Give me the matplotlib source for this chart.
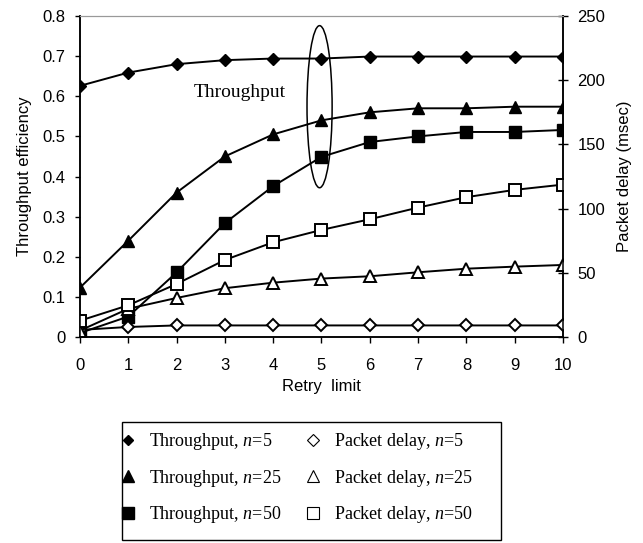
import matplotlib.pyplot as plt
from matplotlib.lines import Line2D
from matplotlib.patches import Ellipse, Rectangle

# Datos
retry = [0, 1, 2, 3, 4, 5, 6, 7, 8, 9, 10]
thr_n5 = [0.626, 0.659, 0.680, 0.690, 0.694, 0.694, 0.699, 0.699, 0.699, 0.699, 0.699]
thr_n25 = [0.123, 0.240, 0.360, 0.450, 0.505, 0.540, 0.560, 0.570, 0.570, 0.574, 0.574]
thr_n50 = [0.010, 0.051, 0.161, 0.284, 0.376, 0.449, 0.486, 0.500, 0.511, 0.511, 0.516]
delay_n5 = [5.5, 7.8, 9.0, 9.0, 9.0, 9.0, 9.0, 9.0, 9.0, 9.0, 9.0]
delay_n25 = [5.0, 22.0, 30.4, 38.0, 42.3, 45.5, 47.3, 50.4, 53.2, 54.8, 56.1]
delay_n50 = [12.7, 24.7, 41.3, 60.0, 73.8, 83.4, 91.7, 100.8, 108.9, 114.6, 118.7]

plt.rcParams['font.family'] = ['Liberation Sans', 'DejaVu Sans']
plt.rcParams['mathtext.fontset'] = 'custom'
plt.rcParams['mathtext.it'] = 'Liberation Serif:italic'
plt.rcParams['mathtext.rm'] = 'Liberation Serif'

fig = plt.figure(figsize=(6.43, 5.43), dpi=100)
ax = fig.add_axes([0.1244, 0.3794, 0.7512, 0.5911])
ax2 = ax.twinx()

lw = 1.4
ax.plot(retry, thr_n5, color='black', lw=lw, marker='D', ms=6.5, mfc='black', zorder=3)
ax.plot(retry, thr_n25, color='black', lw=lw, marker='^', ms=9, mfc='black', zorder=3)
ax.plot(retry, thr_n50, color='black', lw=lw, marker='s', ms=9, mfc='black', zorder=3)
ax2.plot(retry, delay_n5, color='black', lw=lw, marker='D', ms=6.5, mfc='white', mew=1.4)
ax2.plot(retry, delay_n25, color='black', lw=lw, marker='^', ms=9, mfc='white', mew=1.4)
ax2.plot(retry, delay_n50, color='black', lw=lw, marker='s', ms=9, mfc='white', mew=1.4)

ax.set_xlim(0, 10)
ax.set_ylim(0, 0.8)
ax2.set_ylim(0, 250)
ax.set_xticks(retry)
ax.set_yticks([0, 0.1, 0.2, 0.3, 0.4, 0.5, 0.6, 0.7, 0.8])
ax.set_yticklabels(['0', '0.1', '0.2', '0.3', '0.4', '0.5', '0.6', '0.7', '0.8'])
ax2.set_yticks([0, 50, 100, 150, 200, 250])

fs = 12
ax.tick_params(axis='x', direction='out', length=4.3, width=1, labelsize=fs, pad=11)
ax.tick_params(axis='y', direction='out', length=3.6, width=1, labelsize=fs, pad=7)
ax2.tick_params(axis='y', direction='inout', length=7, width=1, labelsize=fs, pad=7)
for a in (ax, ax2):
    a.spines['top'].set_color('#999999')
    a.spines['top'].set_linewidth(0.8)
    for s in ('left', 'right', 'bottom'):
        a.spines[s].set_linewidth(1.1)

ax.set_xlabel('Retry  limit', fontsize=fs, labelpad=4)
ax.set_ylabel('Throughput efficiency', fontsize=fs, labelpad=7.5)
ax2.set_ylabel('Packet delay (msec)', fontsize=fs, labelpad=8)

# Elipse y texto de anotacion
ax.add_patch(Ellipse((4.96, 0.574), 0.52, 0.404, fill=False, ec='black', lw=1.1, zorder=4))
ax.text(3.3, 0.61, 'Throughput', family='Liberation Serif', fontsize=14, ha='center', va='center')

# Leyenda (sin marco propio; el marco se dibuja aparte)
handles = [
    Line2D([], [], ls='none', marker='D', ms=5.5, color='black', mfc='black'),
    Line2D([], [], ls='none', marker='^', ms=8, color='black', mfc='black'),
    Line2D([], [], ls='none', marker='s', ms=8, color='black', mfc='black'),
    Line2D([], [], ls='none', marker='D', ms=6, color='black', mfc='white', mew=0.8),
    Line2D([], [], ls='none', marker='^', ms=8, color='black', mfc='white', mew=0.8),
    Line2D([], [], ls='none', marker='s', ms=8, color='black', mfc='white', mew=0.8),
]
labels = ['Throughput, $n$=5', 'Throughput, $n$=25', 'Throughput, $n$=50',
          'Packet delay, $n$=5', 'Packet delay, $n$=25', 'Packet delay, $n$=50']
leg = fig.legend(handles, labels, ncol=2, loc='upper left',
                 bbox_to_anchor=(122.6 / 643, 1 - 431 / 543),
                 prop={'family': 'Liberation Serif', 'size': 13},
                 frameon=False, labelspacing=0.87, columnspacing=1.45,
                 handlelength=0.6, handletextpad=0.87, borderpad=0, borderaxespad=0)
fig.patches.append(Rectangle((122 / 643, 1 - 540 / 543), (501 - 122) / 643, (540 - 422) / 543,
                             transform=fig.transFigure, fill=False, ec='black', lw=1.0))

fig.savefig('out.png', dpi=100)
